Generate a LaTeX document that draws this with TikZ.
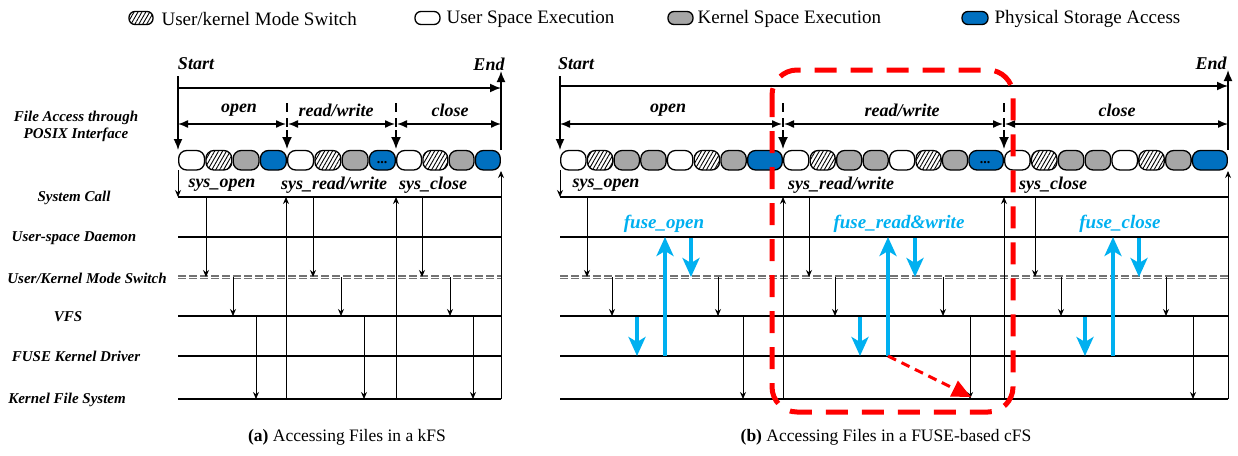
\documentclass[tikz,border=0pt]{standalone}
\usepackage{fontspec}
\setmainfont{Liberation Serif}
\usetikzlibrary{arrows.meta,patterns.meta,positioning}

\definecolor{kerngray}{RGB}{166,166,166}
\definecolor{diskblue}{RGB}{0,112,192}
\definecolor{fusecyan}{RGB}{0,176,240}

% lane heights
\def\ySC{197}
\def\yUD{237}
\def\yMS{277}
\def\yVFS{316}
\def\yFKD{356}
\def\yKFS{399}

\tikzset{
  pill/.style={draw=black, line width=1.3pt, rounded corners=8pt},
  userpill/.style={pill, fill=white},
  hatchpill/.style={pill, pattern={Lines[angle=60,distance=3.4pt,line width=0.9pt]}},
  kernpill/.style={pill, fill=kerngray},
  diskpill/.style={pill, fill=diskblue},
  lane/.style={line width=1.6pt},
  modelane/.style={draw=black!55, line width=1.4pt, double=white, double distance=0.9pt, dash pattern=on 8pt off 3pt},
  call/.style={line width=0.9pt, -{Stealth[length=7pt,width=6pt]}},
  fusecall/.style={draw=fusecyan, line width=4pt, -{Stealth[length=19pt,width=17pt,inset=5pt]}},
  span/.style={line width=1.4pt, {Latex[length=10pt,width=8pt]}-{Latex[length=10pt,width=8pt]}},
  border/.style={line width=1.6pt, -{Latex[length=11pt,width=9pt]}},
  marker/.style={line width=1.4pt, dash pattern=on 9pt off 6pt},
  drop/.style={line width=1.4pt, -{Latex[length=12pt,width=10pt]}},
  lanelabel/.style={font=\fontsize{15}{17}\selectfont\bfseries\itshape, align=center},
  phase/.style={font=\fontsize{18}{20}\selectfont\bfseries\itshape},
  fusename/.style={text=fusecyan, font=\fontsize{19}{21}\selectfont\bfseries\itshape},
  legendtext/.style={font=\fontsize{19}{21}\selectfont, anchor=west},
  caption/.style={font=\fontsize{17.5}{20}\selectfont},
  focusbox/.style={draw=red, line width=5pt, dash pattern=on 22pt off 14pt, rounded corners=25pt},
  redpath/.style={draw=red, line width=3pt, dash pattern=on 9pt off 6pt, -{Triangle[length=19pt,width=17pt]}}
}

\begin{document}
\begin{tikzpicture}[x=1pt, y=-1pt]
  \useasboundingbox (0,0) rectangle (1238,455);

  % Legend
  \draw[hatchpill, rounded corners=6pt] (129,11.5) rectangle (153,24.5);
  \node[legendtext] (legMode) at (158,19) {User/kernel Mode Switch};
  \draw[userpill, rounded corners=6pt] (415,11.5) rectangle (440,24.5);
  \node[legendtext] (legUser) at (443,19) {User Space Execution};
  \draw[kernpill, rounded corners=6pt] (668,11.5) rectangle (693,24.5);
  \node[legendtext] (legKern) at (694,19) {Kernel Space Execution};
  \draw[diskpill, rounded corners=6pt] (962,11.5) rectangle (988,24.5);
  \node[legendtext] (legDisk) at (991,19) {Physical Storage Access};

  % Lane labels
  \node[lanelabel] (lblPosix) at (76,126) {File Access through\\POSIX Interface};
  \node[lanelabel] (lblSC) at (74,198) {System Call};
  \node[lanelabel] (lblUD) at (74,238) {User-space Daemon};
  \node[lanelabel] (lblMS) at (87,278) {User/Kernel Mode Switch};
  \node[lanelabel] (lblVFS) at (68,317) {VFS};
  \node[lanelabel] (lblFKD) at (76,356) {FUSE Kernel Driver};
  \node[lanelabel] (lblKFS) at (67,400) {Kernel File System};

  %%%% (a) kFS
  \node[phase] (startA) at (196,64) {Start};
  \node[phase] (endA) at (489,64) {End};
  \draw[border] (178,76) -- (178,150);
  \draw[border] (178,88) -- (501,88);
  \draw[border] (501,150) -- (501,71);
  % phases
  \draw[span] (178,124) -- (286,124);
  \draw[span] (288,124) -- (395,124);
  \draw[span] (397,124) -- (501,124);
  \foreach \x in {287,396} {
    \draw[marker] (\x,103) -- (\x,130);
    \draw[drop] (\x,130) -- (\x,149);
  }
  \node[phase] (openA) at (239,110) {open};
  \node[phase] (rwA) at (336,110) {read/write};
  \node[phase] (closeA) at (450,110) {close};
  % execution pills
  \foreach \s/\e in {178/287, 287/396, 396/501} {
    \pgfmathsetmacro\p{(\e-\s)/4}
    \draw[userpill] (\s+0.7,150.5) rectangle (\s+\p-0.7,170);
    \draw[hatchpill] (\s+\p+0.7,150.5) rectangle (\s+2*\p-0.7,170);
    \draw[kernpill] (\s+2*\p+0.7,150.5) rectangle (\s+3*\p-0.7,170);
    \draw[diskpill] (\s+3*\p+0.7,150.5) rectangle (\e-0.7,170);
  }
  \node[font=\bfseries\fontsize{14}{14}\selectfont] (dotsA) at (382,163) {...};
  \node[phase] (sysOpenA) at (222,185) {sys\_open};
  \node[phase] (sysRwA) at (334,185) {sys\_read/write};
  \node[phase] (sysCloseA) at (433,185) {sys\_close};
  % lanes
  \foreach \y in {\ySC,\yUD,\yVFS,\yFKD,\yKFS}
    \draw[lane] (178,\y) -- (501,\y);
  \draw[modelane] (178,\yMS) -- (501,\yMS);
  % calls
  \draw[call] (178,170) -- (178,\ySC);
  \foreach \x in {206,313,422} \draw[call] (\x,\ySC) -- (\x,\yMS);
  \foreach \x in {233,341,450} \draw[call] (\x,\yMS) -- (\x,\yVFS);
  \foreach \x in {256,364,473} \draw[call] (\x,\yVFS) -- (\x,\yKFS);
  \foreach \x in {286,396} \draw[call] (\x,\yKFS) -- (\x,\ySC);
  \draw[line width=0.9pt] (501,\yKFS) -- (501,\ySC);
  \draw[call] (501,\ySC) -- (501,171);
  \node[caption] (capA) at (347,437) {\textbf{(a)} Accessing Files in a kFS};

  %%%% (b) FUSE-based cFS
  \node[phase] (startB) at (576,64) {Start};
  \node[phase] (endB) at (1211,63) {End};
  \draw[border] (560,76) -- (560,150);
  \draw[border] (560,86) -- (1228,86);
  \draw[border] (1228,150) -- (1228,70);
  % phases
  \draw[span] (560,124) -- (782,124);
  \draw[span] (784,124) -- (1003,124);
  \draw[span] (1005,124) -- (1228,124);
  \foreach \x in {783,1004} {
    \draw[marker] (\x,103) -- (\x,130);
    \draw[drop] (\x,130) -- (\x,149);
  }
  \node[phase] (openB) at (668,110) {open};
  \node[phase] (rwB) at (902,110) {read/write};
  \node[phase] (closeB) at (1117,110) {close};
  % execution pills
  \foreach \s/\e in {560/783, 783/1004, 1004/1228} {
    \pgfmathsetmacro\p{(\e-\s)/8.35}
    \foreach \i/\kind in {0/userpill,1/hatchpill,2/kernpill,3/kernpill,4/userpill,5/hatchpill,6/kernpill}
      \draw[\kind] (\s+\i*\p+0.7,150.5) rectangle (\s+\i*\p+\p-0.7,170);
    \draw[diskpill] (\s+7*\p+0.7,150.5) rectangle (\e-0.7,170);
  }
  \node[font=\bfseries\fontsize{14}{14}\selectfont] (dotsB) at (985,163) {...};
  \node[phase] (sysOpenB) at (606,185) {sys\_open};
  \node[phase] (sysRwB) at (841,185) {sys\_read/write};
  \node[phase] (sysCloseB) at (1053,185) {sys\_close};
  % lanes
  \foreach \y in {\ySC,\yUD,\yVFS,\yFKD,\yKFS}
    \draw[lane] (560,\y) -- (1228,\y);
  \draw[modelane] (560,\yMS) -- (1228,\yMS);
  % calls
  \draw[call] (560,170) -- (560,\ySC);
  \foreach \x in {587,809,1035} \draw[call] (\x,\ySC) -- (\x,\yMS);
  \foreach \x in {612,718,835,943,1061,1166} \draw[call] (\x,\yMS) -- (\x,\yVFS);
  \foreach \x in {743,970,1193} \draw[call] (\x,\yVFS) -- (\x,\yKFS);
  \foreach \x in {783,1004} \draw[call] (\x,\yKFS) -- (\x,\ySC);
  \draw[line width=0.9pt] (1228,\yKFS) -- (1228,\ySC);
  \draw[call] (1228,\ySC) -- (1228,171);
  % FUSE round trips
  \foreach \x in {637,860,1085} \draw[fusecall] (\x,\yVFS+1) -- (\x,\yFKD);
  \foreach \x in {665,888,1113} \draw[fusecall] (\x,\yFKD) -- (\x,\yUD);
  \foreach \x in {691,915,1139} \draw[fusecall] (\x,\yUD+1) -- (\x,\yMS);
  \node[fusename] (fuseOpen) at (664,224) {fuse\_open};
  \node[fusename] (fuseRw) at (899,224) {fuse\_read\&write};
  \node[fusename] (fuseClose) at (1120,224) {fuse\_close};
  % highlighted read/write
  \draw[redpath] (888,\yFKD) -- (971,397);
  \draw[focusbox] (772,70) rectangle (1013,412);
  \node[caption] (capB) at (886,437) {\textbf{(b)} Accessing Files in a FUSE-based cFS};
\end{tikzpicture}
\end{document}
